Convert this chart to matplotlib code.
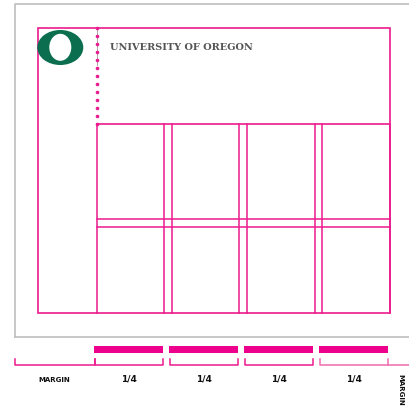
import matplotlib
matplotlib.use("Agg")
import matplotlib.pyplot as plt
from matplotlib.patches import Rectangle, Ellipse

# layout values (pixel units of the diagram)
col_left = [97, 172, 247, 322]
col_right = [164, 239, 315, 390]
row_top = [125, 228]
row_bottom = [220, 314]
bar_left = [94, 169, 244, 319]
bar_right = [163, 238, 313, 388]
labels = ["1/4", "1/4", "1/4", "1/4"]
label_x = [129, 204, 279, 354]

pink = "#ec1a8e"
pink_light = "#f06ab0"
gray = "#bdbdbd"

fig = plt.figure(figsize=(4.09, 4.10), dpi=100)
ax = fig.add_axes([0, 0, 1, 1])
ax.set_xlim(0, 409)
ax.set_ylim(410, 0)
ax.axis("off")

# gray page border
ax.plot([14.5, 14.5, 412], [338, 4.5, 4.5], color=gray, lw=1.2)
ax.plot([14.5, 412], [338, 338], color=gray, lw=1.2)

# outer pink box
ax.add_patch(Rectangle((38, 29), 352, 285, fill=False, ec=pink, lw=1.2))

# dotted line from header to grid
ax.plot([97, 97], [29, 66], color="#999999", lw=0.6)
ax.plot([97] * 13, [29 + i * 8 for i in range(13)], ls="none", marker="o",
        ms=2.6, color=pink, mec="none")

# top of the grid area
ax.plot([97, 390], [125, 125], color=pink, lw=1.2)

# columns
for l, r in zip(col_left, col_right):
    ax.plot([l, l], [125, 314], color=pink, lw=1.1)
    ax.plot([r, r], [125, 314], color=pink, lw=1.1)

# rows
for t in row_top[1:]:
    ax.plot([97, 390], [t, t], color=pink, lw=1.1)
for b in row_bottom[:1]:
    ax.plot([97, 390], [b, b], color=pink, lw=1.1)

# logo O
ax.add_patch(Ellipse((60.3, 48.5), 46, 35, color="#0b6e4f", lw=0))
ax.add_patch(Ellipse((60.3, 48.3), 22, 27, color="white", lw=0))

ax.text(110, 48, "UNIVERSITY OF OREGON", fontsize=7, fontweight="bold",
        family="DejaVu Serif", color="#555555", va="center", ha="left")

# bottom bars for the four columns
for l, r in zip(bar_left, bar_right):
    ax.add_patch(Rectangle((l, 347), r - l, 7, color="#ec008c", lw=0))

# brackets
ax.plot([14.5, 14.5, 95, 95], [360, 366, 366, 360], color=pink, lw=1.1)
for i, (l, r) in enumerate(zip([95, 170, 245, 320], [163, 238, 313, 388])):
    c = pink_light if i == 3 else pink
    ax.plot([l, l, r, r], [360, 366, 366, 360], color=c, lw=1.1)
ax.plot([388, 410], [366, 366], color=pink_light, lw=1.1)

ax.text(54, 380, "MARGIN", fontsize=5, fontweight="bold", ha="center",
        va="center", color="#111111")
for x, s in zip(label_x, labels):
    ax.text(x, 379, s, fontsize=6.5, fontweight="bold", ha="center",
            va="center", color="#111111")
ax.text(400, 374, "MARGIN", fontsize=5, fontweight="bold", ha="center",
        va="top", rotation=270, color="#111111")

fig.savefig("out.png", dpi=100)
